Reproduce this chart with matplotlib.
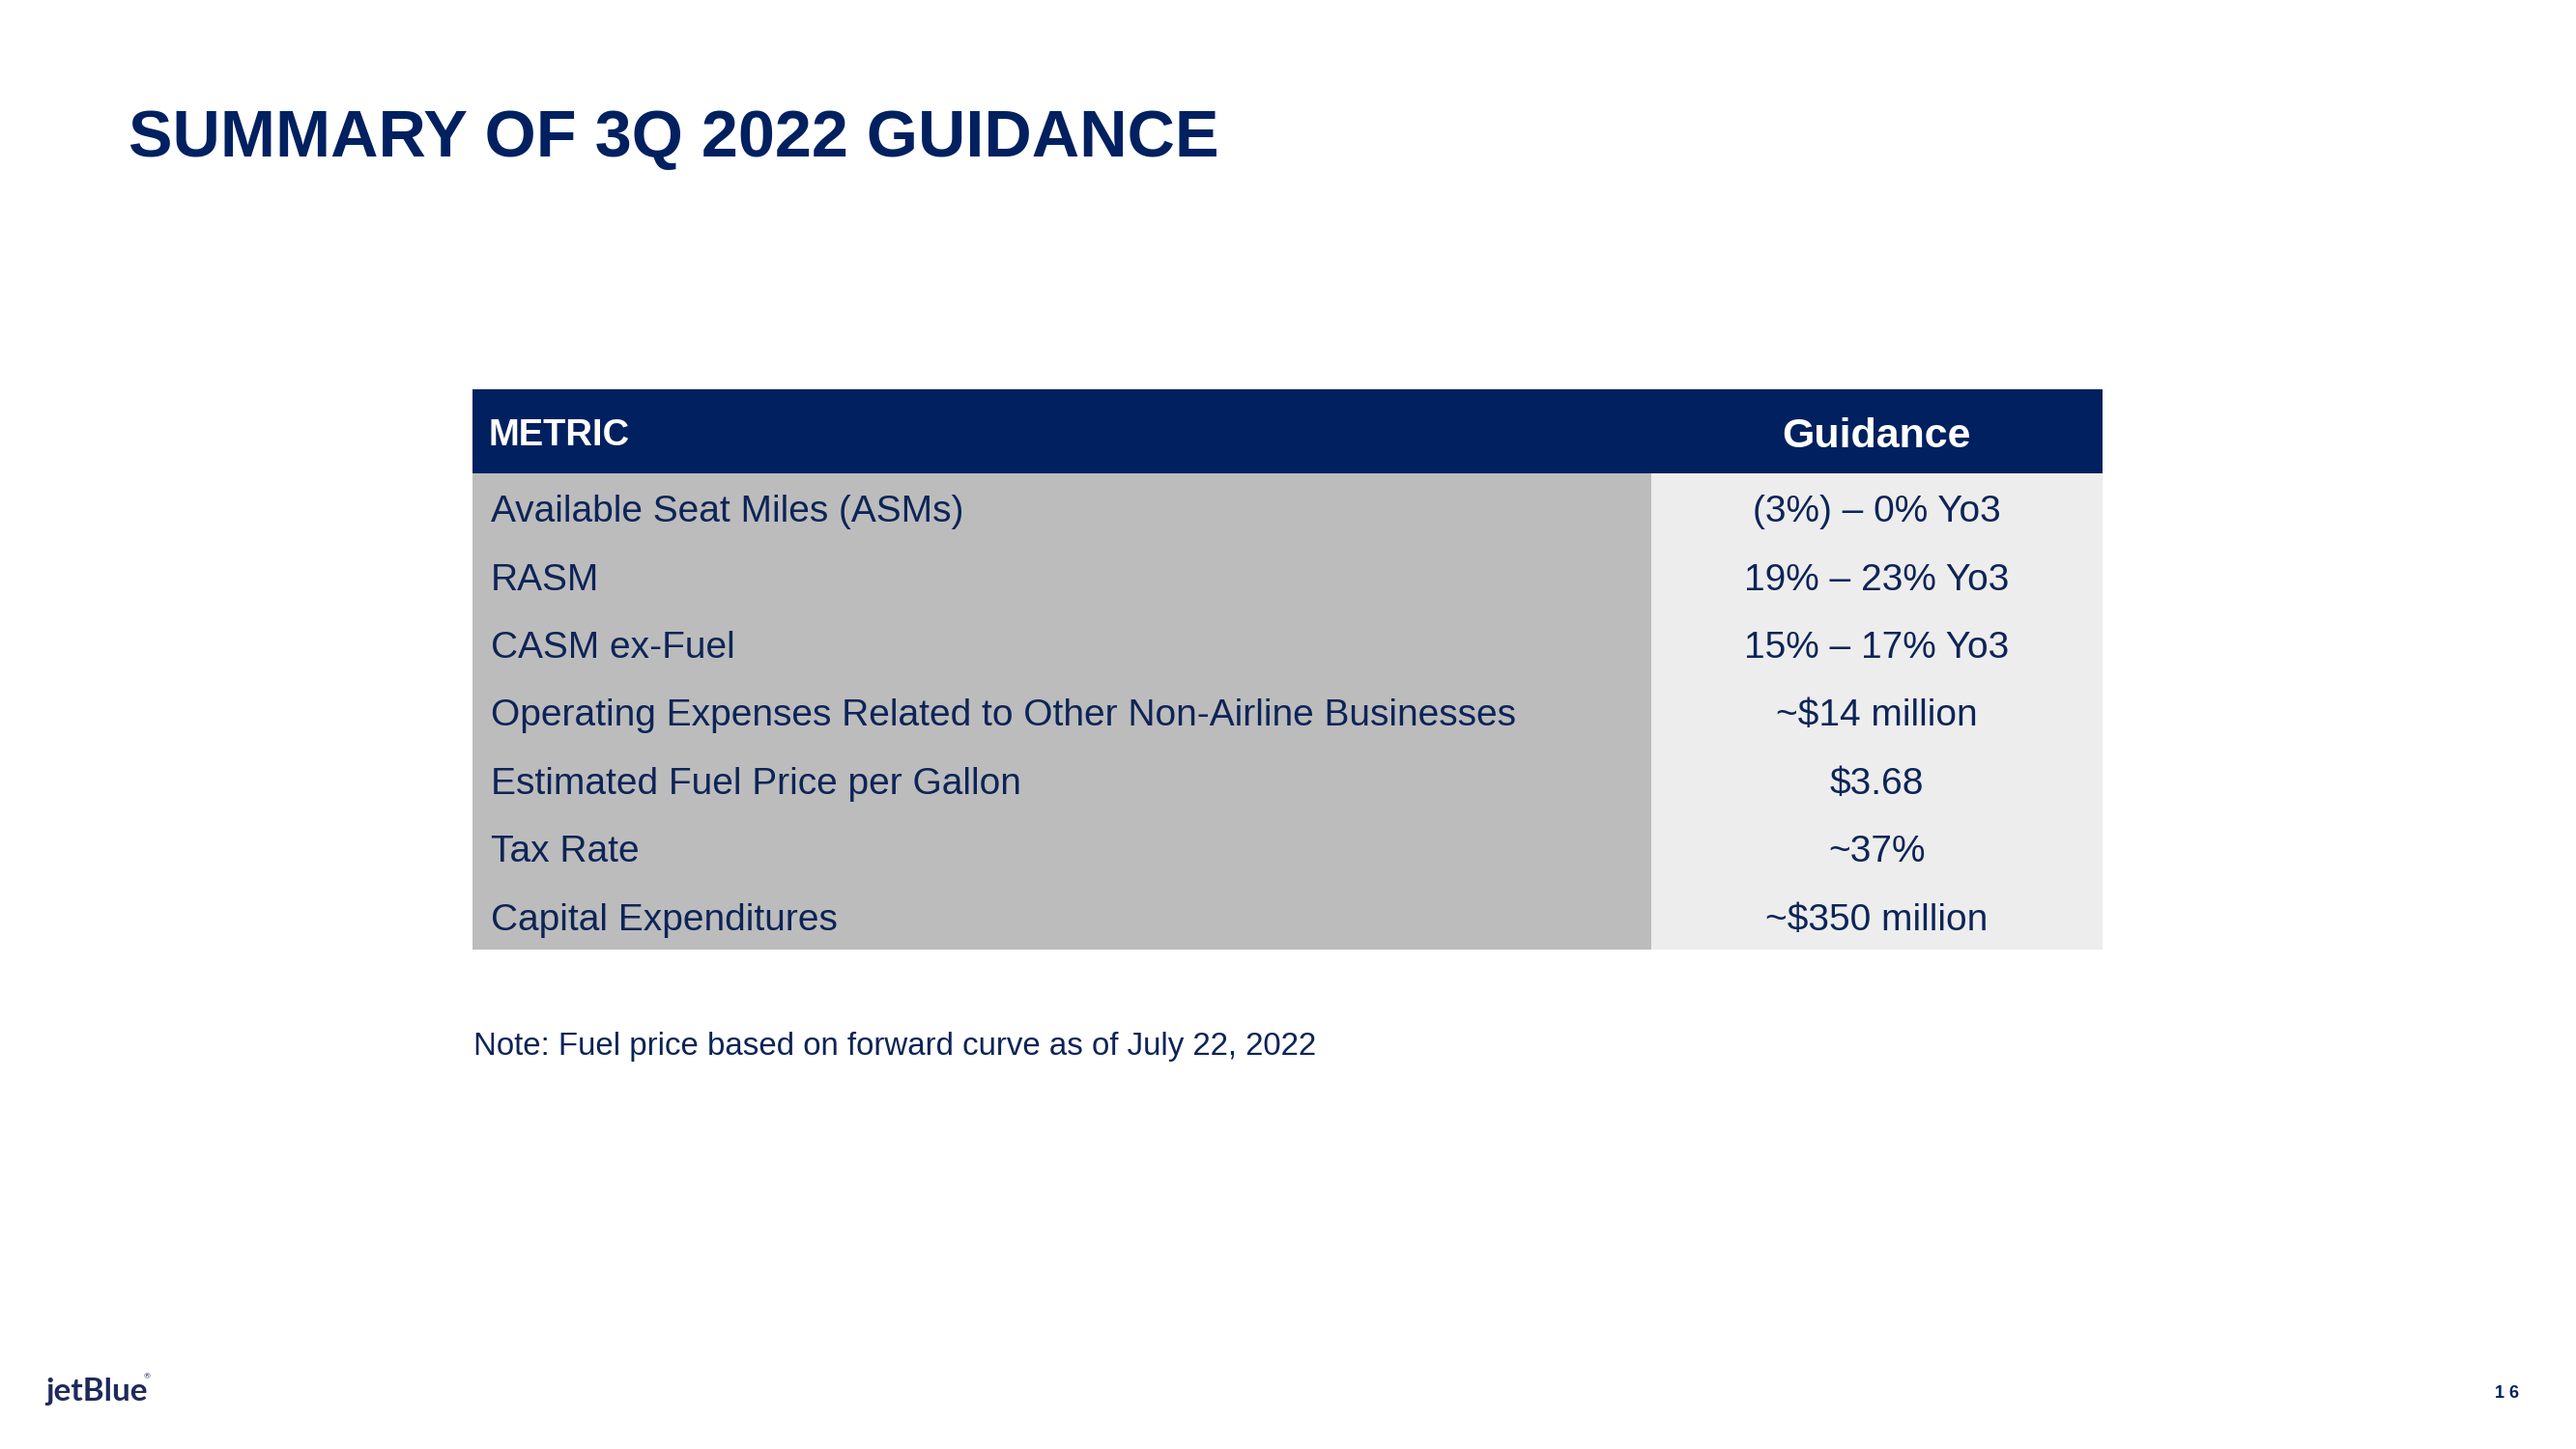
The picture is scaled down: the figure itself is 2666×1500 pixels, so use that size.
import matplotlib
matplotlib.use("Agg")
import matplotlib.pyplot as plt
from matplotlib.patches import Rectangle

# ---------------- data ----------------
title = "SUMMARY OF 3Q 2022 GUIDANCE"
header_labels = ["METRIC", "Guidance"]
metrics = [
    "Available Seat Miles (ASMs)",
    "RASM",
    "CASM ex-Fuel",
    "Operating Expenses Related to Other Non-Airline Businesses",
    "Estimated Fuel Price per Gallon",
    "Tax Rate",
    "Capital Expenditures",
]
guidance = [
    "(3%) \u2013 0% Yo3",
    "19% \u2013 23% Yo3",
    "15% \u2013 17% Yo3",
    "~$14 million",
    "$3.68",
    "~37%",
    "~$350 million",
]
note = "Note: Fuel price based on forward curve as of July 22, 2022"
logo = "jetBlue"
page_number = "1 6"

# ---------------- style ----------------
NAVY = "#002060"
TEXT = "#0D2457"
GREY = "#BCBCBC"
LIGHT = "#EDEDED"
FONT = ["Liberation Sans", "DejaVu Sans"]

W, H = 2666, 1500
fig = plt.figure(figsize=(W / 100, H / 100), dpi=100)
ax = fig.add_axes([0, 0, 1, 1])
ax.set_xlim(0, W)
ax.set_ylim(H, 0)
ax.axis("off")

# title
ax.text(133, 162, title, fontsize=49.2, fontweight="bold", color=NAVY,
        family=FONT, ha="left", va="baseline")

# table geometry
x0, x_split, x1 = 489, 1709, 2176
hdr_top, hdr_bot = 403, 490
row_h = (983 - 490) / len(metrics)

ax.add_patch(Rectangle((x0, hdr_top), x1 - x0, hdr_bot - hdr_top,
                       facecolor=NAVY, edgecolor="none"))
ax.text(506, 461, header_labels[0], fontsize=27.5, fontweight="bold",
        color="white", family=FONT, ha="left", va="baseline")
ax.text((x_split + x1) / 2, 463, header_labels[1], fontsize=31,
        fontweight="bold", color="white", family=FONT, ha="center",
        va="baseline")

for i, (m, g) in enumerate(zip(metrics, guidance)):
    top = hdr_bot + i * row_h
    ax.add_patch(Rectangle((x0, top), x_split - x0, row_h,
                           facecolor=GREY, edgecolor="none"))
    ax.add_patch(Rectangle((x_split, top), x1 - x_split, row_h,
                           facecolor=LIGHT, edgecolor="none"))
    base = top + row_h / 2 + 15
    ax.text(508, base, m, fontsize=28, color=TEXT, family=FONT,
            ha="left", va="baseline")
    ax.text((x_split + x1) / 2, base, g, fontsize=28, color=TEXT,
            family=FONT, ha="center", va="baseline")

# note
ax.text(490, 1092, note, fontsize=23.8, color=TEXT, family=FONT,
        ha="left", va="baseline")

# footer
ax.text(47, 1450, logo, fontsize=24, fontweight="bold", color="#1E2A5A",
        family=["Lato", "DejaVu Sans"], ha="left", va="baseline")
ax.text(149, 1427, "\u00ae", fontsize=6, color="#1E2A5A",
        family=["Lato", "DejaVu Sans"], ha="left", va="baseline")
ax.text(2582, 1447, page_number, fontsize=13, fontweight="bold", color=NAVY,
        family=FONT, ha="left", va="baseline")

fig.savefig("out.png", dpi=100, facecolor="white")
